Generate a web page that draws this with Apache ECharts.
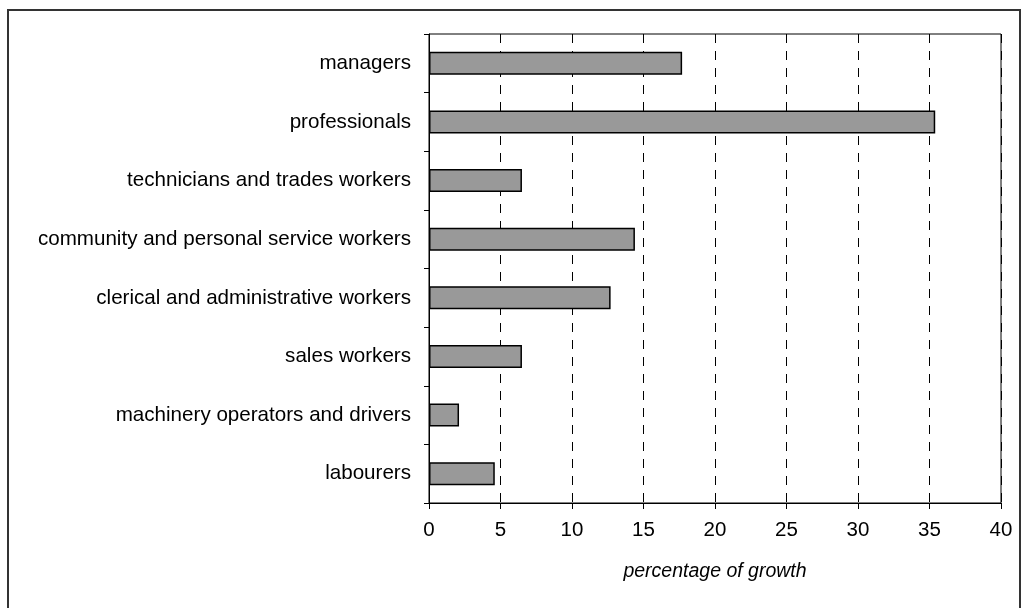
<!DOCTYPE html>
<html>
<head>
<meta charset="utf-8">
<script src="https://cdn.jsdelivr.net/npm/echarts@6/dist/echarts.min.js"></script>
<style>
  html, body { margin: 0; padding: 0; background: #fff; }
  #chart { width: 1028px; height: 608px; }
</style>
</head>
<body>
<div id="chart"></div>
<script>
// Occupation groups, top to bottom
const categories = [
  'managers',
  'professionals',
  'technicians and trades workers',
  'community and personal service workers',
  'clerical and administrative workers',
  'sales workers',
  'machinery operators and drivers',
  'labourers'
]

// Growth (%)
const growth = [17.7, 35.4, 6.5, 14.4, 12.7, 6.5, 2.1, 4.6]

const xMin = 0
const xMax = 40
const xStep = 5

const font = 'Liberation Sans, Arial, sans-serif'

const chart = echarts.init(document.getElementById('chart'), null, { renderer: 'canvas' })

chart.setOption({
  backgroundColor: '#fff',
  animation: false,
  // outer frame
  graphic: [{
    type: 'rect',
    shape: { x: 8, y: 10, width: 1012, height: 620 },
    style: { fill: 'none', stroke: '#333', lineWidth: 2 },
    silent: true
  }],
  grid: {
    left: 429,
    right: 27,
    top: 34,
    bottom: 105,
    show: true,
    borderColor: '#000',
    borderWidth: 1
  },
  xAxis: {
    type: 'value',
    min: xMin,
    max: xMax,
    interval: xStep,
    name: 'percentage of growth',
    nameLocation: 'middle',
    nameGap: 59,
    nameTextStyle: { fontFamily: font, fontSize: 19.5, fontStyle: 'italic', color: '#000' },
    axisLine: { show: true, lineStyle: { color: '#000', width: 1 } },
    axisTick: { show: true, length: 6, lineStyle: { color: '#000' } },
    axisLabel: { fontFamily: font, fontSize: 20.5, color: '#000', margin: 17 },
    splitLine: { show: true, lineStyle: { color: '#000', width: 1, type: [9, 8] } }
  },
  yAxis: {
    type: 'category',
    data: categories,
    inverse: true,
    axisLine: { show: true, lineStyle: { color: '#000', width: 1 } },
    axisTick: { show: true, length: 5, alignWithLabel: false, lineStyle: { color: '#000' } },
    axisLabel: { fontFamily: font, fontSize: 20.6, color: '#000', margin: 18 },
    splitLine: { show: false }
  },
  series: [{
    type: 'bar',
    data: growth,
    barWidth: 23,
    itemStyle: { color: '#999999', borderColor: '#000', borderWidth: 1.5 }
  }]
})
</script>
</body>
</html>
